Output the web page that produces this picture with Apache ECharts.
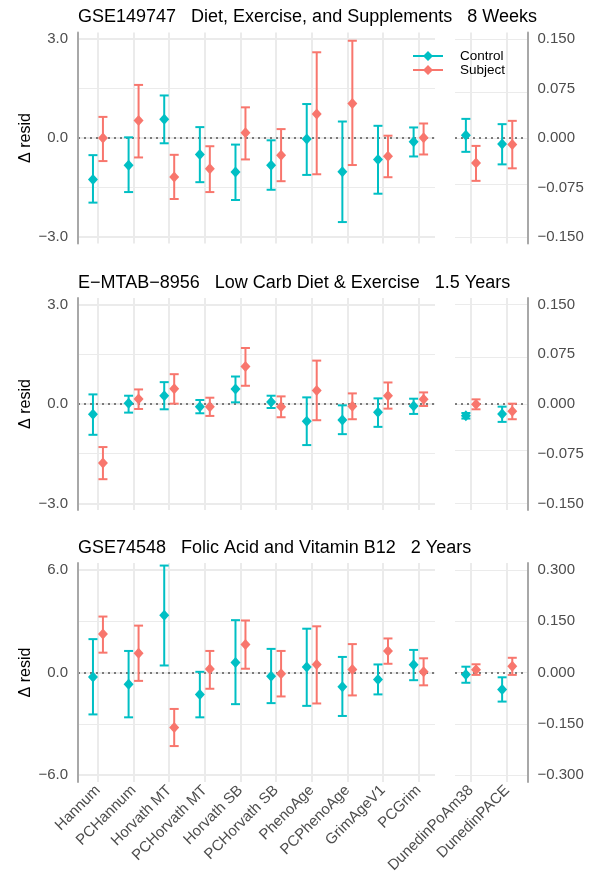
<!DOCTYPE html>
<html>
<head>
<meta charset="utf-8">
<script src="https://cdn.jsdelivr.net/npm/echarts@6/dist/echarts.min.js"></script>
<style>
  html, body { margin: 0; padding: 0; background: #fff; }
  #chart { width: 591px; height: 890px; }
</style>
</head>
<body>
<div id="chart"></div>
<script>
// clocks on the left axis, pace measures on the right one
const clocks = ['Hannum', 'PCHannum', 'Horvath MT', 'PCHorvath MT', 'Horvath SB',
                'PCHorvath SB', 'PhenoAge', 'PCPhenoAge', 'GrimAgeV1', 'PCGrim'];
const paceClocks = ['DunedinPoAm38', 'DunedinPACE'];

const titles = [
  'GSE149747   Diet, Exercise, and Supplements   8 Weeks',
  'E\u2212MTAB\u22128956   Low Carb Diet & Exercise   1.5 Years',
  'GSE74548   Folic Acid and Vitamin B12   2 Years',
];

// each entry: [estimate, lower, upper]
const gse149747Control = [
  [-1.26, -1.96, -0.52], [-0.83, -1.64, 0.02], [0.57, -0.16, 1.29], [-0.50, -1.34, 0.33], [-1.03, -1.88, -0.20],
  [-0.83, -1.57, -0.07], [-0.03, -1.12, 1.03], [-1.02, -2.55, 0.50], [-0.65, -1.69, 0.37], [-0.11, -0.56, 0.32],
];
const gse149747Subject = [
  [0.00, -0.70, 0.64], [0.53, -0.59, 1.61], [-1.18, -1.85, -0.51], [-0.93, -1.64, -0.25], [0.16, -0.65, 0.93],
  [-0.52, -1.31, 0.27], [0.73, -1.10, 2.60], [1.05, -0.82, 2.95], [-0.55, -1.19, 0.07], [0.01, -0.50, 0.44],
];
const gse149747PaceControl = [[0.004, -0.021, 0.029], [-0.009, -0.040, 0.021]];
const gse149747PaceSubject = [[-0.038, -0.065, -0.012], [-0.010, -0.046, 0.026]];

const emtab8956Control = [
  [-0.31, -0.93, 0.29], [0.02, -0.26, 0.25], [0.25, -0.16, 0.66], [-0.08, -0.28, 0.12], [0.45, 0.05, 0.83],
  [0.06, -0.12, 0.25], [-0.52, -1.24, 0.20], [-0.48, -0.91, -0.04], [-0.25, -0.69, 0.17], [-0.06, -0.30, 0.16],
];
const emtab8956Subject = [
  [-1.78, -2.27, -1.30], [0.15, -0.15, 0.44], [0.46, 0.01, 0.90], [-0.08, -0.36, 0.19], [1.13, 0.55, 1.69],
  [-0.08, -0.40, 0.23], [0.41, -0.49, 1.31], [-0.07, -0.46, 0.32], [0.25, -0.14, 0.65], [0.14, -0.06, 0.35],
];
const emtab8956PaceControl = [[-0.0177, -0.022, -0.0136], [-0.015, -0.027, -0.004]];
const emtab8956PaceSubject = [[-0.0005, -0.008, 0.007], [-0.011, -0.023, 0.0005]];

const gse74548Control = [
  [-0.26, -2.45, 1.95], [-0.69, -2.62, 1.26], [3.35, 0.41, 6.25], [-1.28, -2.62, 0.04], [0.59, -1.85, 3.06],
  [-0.22, -1.79, 1.38], [0.32, -1.95, 2.56], [-0.83, -2.54, 0.91], [-0.41, -1.28, 0.47], [0.45, -0.45, 1.32],
];
const gse74548Subject = [
  [2.25, 1.16, 3.27], [1.12, -0.49, 2.74], [-3.22, -4.30, -2.13], [0.20, -0.95, 1.26], [1.64, 0.22, 3.04],
  [-0.08, -1.40, 1.26], [0.47, -1.81, 2.70], [0.18, -1.34, 1.66], [1.26, 0.51, 1.99], [0.04, -0.75, 0.83],
];
const gse74548PaceControl = [[-0.006, -0.030, 0.017], [-0.050, -0.085, -0.014]];
const gse74548PaceSubject = [[0.008, -0.007, 0.024], [0.018, -0.007, 0.043]];

// axis ranges and ticks
const residLimits = [3.2, 3.2, 6.4];
const residLabels = [[-3, 0, 3], [-3, 0, 3], [-6, 0, 6]];
const residGrid = [[-3, -1.5, 0, 1.5, 3], [-3, -1.5, 0, 1.5, 3], [-6, -3, 0, 3, 6]];
const paceLimits = [0.16, 0.16, 0.32];
const paceLabels = [
  [-0.15, -0.075, 0, 0.075, 0.15],
  [-0.15, -0.075, 0, 0.075, 0.15],
  [-0.3, -0.15, 0, 0.15, 0.3],
];

const panels = [
  { control: gse149747Control, subject: gse149747Subject, paceControl: gse149747PaceControl, paceSubject: gse149747PaceSubject },
  { control: emtab8956Control, subject: emtab8956Subject, paceControl: emtab8956PaceControl, paceSubject: emtab8956PaceSubject },
  { control: gse74548Control, subject: gse74548Subject, paceControl: gse74548PaceControl, paceSubject: gse74548PaceSubject },
];

const CONTROL_COLOR = '#00BFC4';
const SUBJECT_COLOR = '#F8766D';
const GRID_COLOR = '#EBEBEB';
const AXIS_COLOR = '#A8A8A8';
const LABEL_COLOR = '#4D4D4D';
const DODGE = 0.14;

const panelTops = [32.5, 298, 563];
const panelHeights = [211, 212, 219];
const titleTops = [7, 273, 538];

const legendIcon = 'path://M0,4L30,4L30,6L0,6Z M15,0L20,5L15,10L10,5Z';

function minus(text) {
  return text.replace('-', '\u2212');
}

function errorBarItem(dodge) {
  return (params, api) => {
    const x = api.value(0) + dodge;
    const mid = api.coord([x, api.value(1)]);
    const lo = api.coord([x, api.value(2)]);
    const hi = api.coord([x, api.value(3)]);
    const color = api.visual('color');
    const cap = 4.5;
    const stroke = { stroke: color, lineWidth: 2 };
    return {
      type: 'group',
      children: [
        { type: 'line', shape: { x1: lo[0], y1: lo[1], x2: hi[0], y2: hi[1] }, style: stroke },
        { type: 'line', shape: { x1: lo[0] - cap, y1: lo[1], x2: lo[0] + cap, y2: lo[1] }, style: stroke },
        { type: 'line', shape: { x1: hi[0] - cap, y1: hi[1], x2: hi[0] + cap, y2: hi[1] }, style: stroke },
        {
          type: 'polygon',
          shape: { points: [[mid[0], mid[1] - 5.5], [mid[0] + 5, mid[1]], [mid[0], mid[1] + 5.5], [mid[0] - 5, mid[1]]] },
          style: { fill: color },
        },
      ],
    };
  };
}

function gridLines(categoryCount, values, majors) {
  const data = [];
  for (let i = 0; i < categoryCount; i++) data.push({ xAxis: i, lineStyle: { width: 2 } });
  values.forEach(v => {
    data.push({ yAxis: v, lineStyle: { width: majors.includes(v) ? 1.8 : 1 } });
  });
  return {
    silent: true,
    animation: false,
    z: 1,
    symbol: ['none', 'none'],
    label: { show: false },
    emphasis: { disabled: true },
    lineStyle: { color: GRID_COLOR, type: 'solid' },
    data,
  };
}

const zeroLine = {
  silent: true,
  animation: false,
  z: 1.5,
  symbol: ['none', 'none'],
  label: { show: false },
  emphasis: { disabled: true },
  lineStyle: { color: '#555', type: [2, 4], width: 1.6 },
  data: [{ yAxis: 0 }],
};

const grid = [];
const xAxis = [];
const yAxis = [];
const series = [];
const title = [];

panels.forEach((panel, p) => {
  const left = 2 * p;
  const right = 2 * p + 1;
  const lastRow = p === panels.length - 1;

  title.push({
    text: titles[p],
    left: 78,
    top: titleTops[p],
    padding: 0,
    textStyle: { fontSize: 18, fontWeight: 'normal', color: '#000', lineHeight: 20 },
  });

  grid.push(
    { left: 78, top: panelTops[p], width: 357, height: panelHeights[p] },
    { left: 455, top: panelTops[p], width: 72.5, height: panelHeights[p] },
  );

  const xLabel = (names) => lastRow ? {
    customValues: names.map((_, i) => i),
    formatter: v => names[Math.round(v)],
    rotate: 45,
    margin: 6,
    fontSize: 15,
    color: LABEL_COLOR,
  } : { show: false };

  xAxis.push(
    {
      gridIndex: left, type: 'value', min: -0.56, max: 9.46,
      axisLine: { show: false, onZero: false }, axisTick: { show: false }, splitLine: { show: false },
      axisLabel: xLabel(clocks),
    },
    {
      gridIndex: right, type: 'value', min: -0.44, max: 1.56,
      axisLine: { show: false, onZero: false }, axisTick: { show: false }, splitLine: { show: false },
      axisLabel: xLabel(paceClocks),
    },
  );

  yAxis.push(
    {
      gridIndex: left, type: 'value', position: 'left', z: 3,
      min: -residLimits[p], max: residLimits[p],
      axisLine: { show: true, onZero: false, lineStyle: { color: AXIS_COLOR, width: 2 } },
      axisTick: { show: false },
      splitLine: { show: false },
      axisLabel: {
        customValues: residLabels[p],
        formatter: v => minus(v.toFixed(1)),
        fontSize: 15, color: LABEL_COLOR, margin: 10,
      },
      name: '\u0394 resid',
      nameLocation: 'middle',
      nameGap: 44,
      nameMoveOverlap: false,
      nameTextStyle: { fontSize: 16, color: '#000' },
    },
    {
      gridIndex: right, type: 'value', position: 'right', z: 3,
      min: -paceLimits[p], max: paceLimits[p],
      axisLine: { show: true, onZero: false, lineStyle: { color: AXIS_COLOR, width: 2 } },
      axisTick: { show: false },
      splitLine: { show: false },
      axisLabel: {
        customValues: paceLabels[p],
        formatter: v => minus(v.toFixed(3)),
        fontSize: 15, color: LABEL_COLOR, margin: 10,
      },
    },
  );

  const paceGrid = residGrid[p].map(v => v * paceLimits[p] / residLimits[p]);

  const groups = [
    { name: 'Control', color: CONTROL_COLOR, dodge: -DODGE, rows: panel.control, pace: panel.paceControl },
    { name: 'Subject', color: SUBJECT_COLOR, dodge: DODGE, rows: panel.subject, pace: panel.paceSubject },
  ];

  groups.forEach((g, k) => {
    series.push({
      type: 'custom',
      name: g.name,
      xAxisIndex: left,
      yAxisIndex: left,
      itemStyle: { color: g.color },
      renderItem: errorBarItem(g.dodge),
      encode: { x: 0, y: 1 },
      data: g.rows.map((r, i) => [i, r[0], r[1], r[2]]),
      markLine: k === 0 ? gridLines(clocks.length, residGrid[p], residLabels[p]) : zeroLine,
    });
    series.push({
      type: 'custom',
      name: g.name,
      xAxisIndex: right,
      yAxisIndex: right,
      itemStyle: { color: g.color },
      renderItem: errorBarItem(g.dodge),
      encode: { x: 0, y: 1 },
      data: g.pace.map((r, i) => [i, r[0], r[1], r[2]]),
      markLine: k === 0 ? gridLines(paceClocks.length, paceGrid, []) : zeroLine,
    });
  });
});

const chart = echarts.init(document.getElementById('chart'), null, { renderer: 'canvas' });
chart.setOption({
  animation: false,
  backgroundColor: '#fff',
  textStyle: { fontFamily: 'Liberation Sans, Arial, sans-serif' },
  title,
  legend: {
    left: 413,
    top: 49,
    padding: 0,
    orient: 'vertical',
    itemWidth: 30,
    itemHeight: 10,
    itemGap: 0,
    selectedMode: false,
    data: [
      { name: 'Control', icon: legendIcon },
      { name: 'Subject', icon: legendIcon },
    ],
    textStyle: { fontSize: 13.5, color: '#000', lineHeight: 14, padding: [0, 0, 0, 12] },
  },
  grid,
  xAxis,
  yAxis,
  series,
});
</script>
</body>
</html>
